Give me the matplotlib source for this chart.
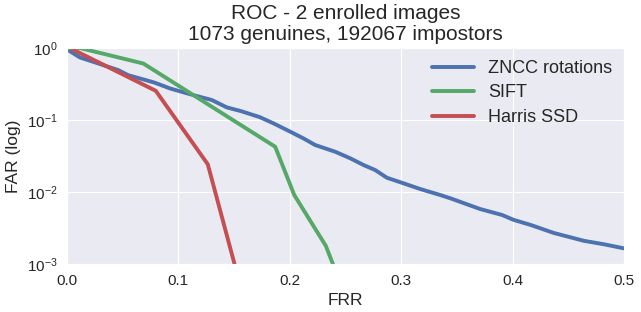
import matplotlib
matplotlib.use("Agg")
import matplotlib.pyplot as plt
import seaborn as sns

# ROC curves (FRR, FAR)
zncc_frr = [0.0, 0.0117, 0.0236, 0.046, 0.055, 0.0686, 0.079, 0.0925, 0.1135, 0.130,
            0.1435, 0.1563, 0.173, 0.1854, 0.2004, 0.2123, 0.2228, 0.2408, 0.2543,
            0.2663, 0.2767, 0.2872, 0.3022, 0.3172, 0.335, 0.344, 0.371, 0.3906,
            0.401, 0.416, 0.437, 0.464, 0.482, 0.5, 0.52]
zncc_far = [0.96, 0.74, 0.645, 0.495, 0.42, 0.367, 0.33, 0.275, 0.222, 0.19,
            0.15, 0.133, 0.11, 0.09, 0.069, 0.0556, 0.045, 0.0363, 0.0294,
            0.0237, 0.0202, 0.0158, 0.0132, 0.011, 0.0091, 0.0082, 0.0058, 0.0048,
            0.0041, 0.0035, 0.0027, 0.0021, 0.00188, 0.00165, 0.0015]

sift_frr = [0.0, 0.012, 0.0686, 0.1869, 0.204, 0.2324, 0.245]
sift_far = [1.0, 1.0, 0.61, 0.0426, 0.0091, 0.00178, 0.00056]

harris_frr = [0.005, 0.0797, 0.1264, 0.155]
harris_far = [0.96, 0.255, 0.0243, 0.00054]

sns.set_style("darkgrid")
plt.rcParams['font.family'] = ['Liberation Sans', 'DejaVu Sans']
plt.rcParams['mathtext.default'] = 'regular'

fig = plt.figure(figsize=(6.41, 3.12), dpi=100)
ax = fig.add_axes([0.1045, 0.1538, 0.869, 0.692])

ax.plot(zncc_frr, zncc_far, color='#4C72B0', lw=2.8, label='ZNCC rotations')
ax.plot(sift_frr, sift_far, color='#55A868', lw=2.8, label='SIFT')
ax.plot(harris_frr, harris_far, color='#C44E52', lw=2.8, label='Harris SSD')

ax.set_yscale('log')
ax.set_xlim(0, 0.5)
ax.set_ylim(1e-3, 1)
ax.set_xticks([0.0, 0.1, 0.2, 0.3, 0.4, 0.5])
ax.tick_params(labelsize=11, colors='#262626')
ax.set_xlabel('FRR', fontsize=12.5, color='#262626')
ax.set_ylabel('FAR (log)', fontsize=12.5, color='#262626')
ax.set_title('ROC - 2 enrolled images\n1073 genuines, 192067 impostors',
             fontsize=15, color='#262626', linespacing=1.1)
ax.legend(loc='upper right', fontsize=13, frameon=False, handlelength=2.3,
          labelspacing=0.42, borderaxespad=0.25)

fig.savefig('out.png', dpi=100)
